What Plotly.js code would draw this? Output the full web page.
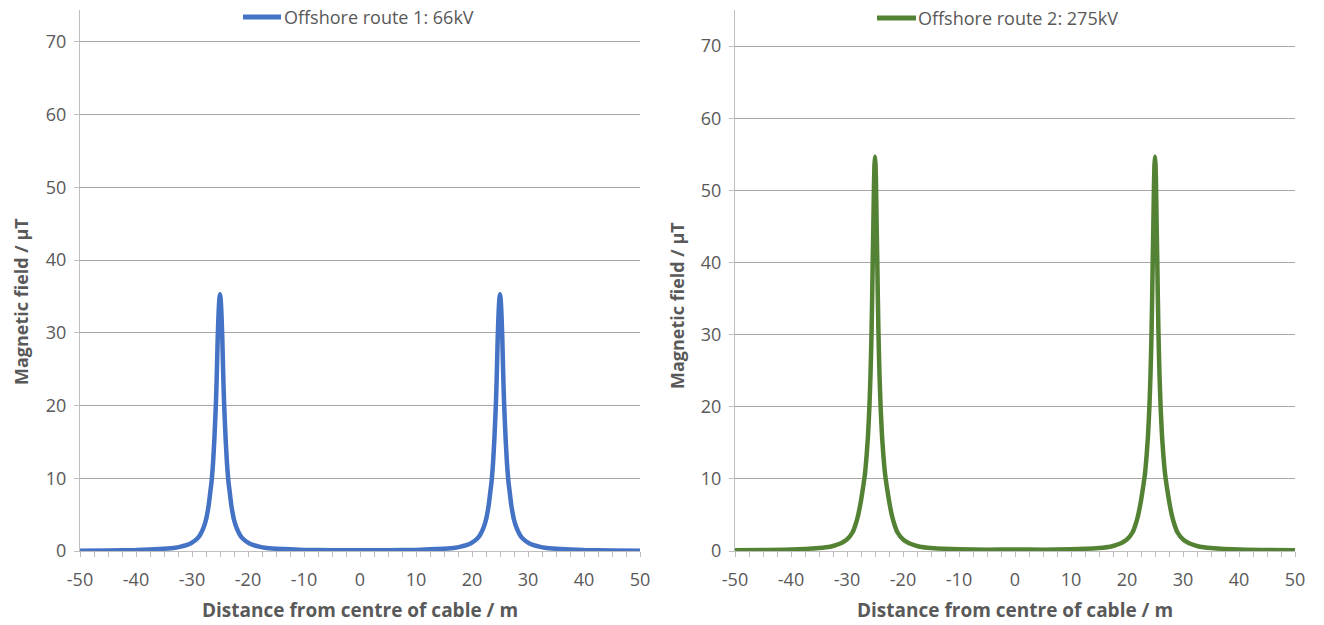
<!DOCTYPE html>
<html>
<head>
<meta charset="utf-8">
<script src="https://cdn.plot.ly/plotly-3.0.1.min.js"></script>
<style>html,body{margin:0;padding:0;background:#fff;}#chart{width:1324px;height:625px;}</style>
</head>
<body>
<div id="chart"></div>
<script>
// Distance from centre of cable (m)
var distance = [-50,-45,-40,-35,-33,-32,-31,-30,-29,-28.5,-28,-27.5,-27,-26.75,-26.5,-26.25,-26,-25.8,-25.7,-25.6,-25.5,-25.4,-25.3,-25.2,-25.1,
  -25,
  -24.9,-24.8,-24.7,-24.6,-24.5,-24.4,-24.3,-24.2,-24,-23.75,-23.5,-23.25,-23,-22.5,-22,-21.5,-21,-20,-19,-18,-17,-15,-10,-5,0,
  5,10,15,17,18,19,20,21,21.5,22,22.5,23,23.25,23.5,23.75,24,24.2,24.3,24.4,24.5,24.6,24.7,24.8,24.9,
  25,
  25.1,25.2,25.3,25.4,25.5,25.6,25.7,25.8,26,26.25,26.5,26.75,27,27.5,28,28.5,29,30,31,32,33,35,40,45,50];

// Offshore route 1: 66kV (µT)
var route1 = [0.05,0.07,0.13,0.32,0.45,0.6,0.8,1.15,1.75,2.3,3.1,4.3,6.4,8,9.6,12,15.5,19,21,23.5,26.5,29.5,31.8,33.6,34.8,
  35.3,
  34.8,33.6,31.8,29.5,26.5,23.5,21,19,15.5,12,9.6,8,6.4,4.3,3.1,2.3,1.75,1.15,0.8,0.6,0.45,0.32,0.15,0.11,0.1,
  0.11,0.15,0.32,0.45,0.6,0.8,1.15,1.75,2.3,3.1,4.3,6.4,8,9.6,12,15.5,19,21,23.5,26.5,29.5,31.8,33.6,34.8,
  35.3,
  34.8,33.6,31.8,29.5,26.5,23.5,21,19,15.5,12,9.6,8,6.4,4.3,3.1,2.3,1.75,1.15,0.8,0.6,0.45,0.32,0.13,0.07,0.05];

// Offshore route 2: 275kV (µT)
var route2 = [0.1,0.13,0.2,0.43,0.6,0.8,1.1,1.6,2.6,3.6,5.0,7.0,9.5,11,13.2,16,20,24.5,27.5,31,35.5,40.5,45,50,53.5,
  54.7,
  53.5,50,45,40.5,35.5,31,27.5,24.5,20,16,13.2,11,9.5,7.0,5.0,3.6,2.6,1.6,1.1,0.8,0.6,0.43,0.24,0.19,0.2,
  0.19,0.24,0.43,0.6,0.8,1.1,1.6,2.6,3.6,5.0,7.0,9.5,11,13.2,16,20,24.5,27.5,31,35.5,40.5,45,50,53.5,
  54.7,
  53.5,50,45,40.5,35.5,31,27.5,24.5,20,16,13.2,11,9.5,7.0,5.0,3.6,2.6,1.6,1.1,0.8,0.6,0.43,0.2,0.13,0.1];

var xTicks = [-50,-40,-30,-20,-10,0,10,20,30,40,50];
var xTickLabels = ['-50','-40','-30','-20','-10','0','10','20','30','40','50'];
var yTicks = [0,10,20,30,40,50,60,70];
var yTickLabels = ['0','10','20','30','40','50','60','70'];
var names = ['Offshore route 1: 66kV', 'Offshore route 2: 275kV'];
var colors = ['#4472C4', '#548235'];
var xTitle = 'Distance from centre of cable / m';
var yTitle = 'Magnetic field / µT';

var grey = '#595959';
var fam = 'Open Sans, Noto Sans, sans-serif';
var tickFont = {family: fam, size: 18, color: grey};
var legFont = {family: fam, size: 18, color: grey};
var xTitleFont = {family: fam, size: 19, color: grey};
var yTitleFont = {family: fam, size: 18, color: grey};

var traces = [
  {x: distance, y: route1, type: 'scatter', mode: 'lines', name: names[0],
   line: {color: colors[0], width: 4.5, shape: 'spline', smoothing: 0.5}, xaxis: 'x', yaxis: 'y'},
  {x: distance, y: route2, type: 'scatter', mode: 'lines', name: names[1],
   line: {color: colors[1], width: 4.5, shape: 'spline', smoothing: 0.5}, xaxis: 'x2', yaxis: 'y2'}
];

function xax(domain, anchor) {
  return {
    domain: domain, anchor: anchor, range: [-50, 50], tickmode: 'array', tickvals: xTicks, ticktext: xTickLabels,
    ticks: 'outside', ticklen: 5, tickcolor: '#bfbfbf', tickfont: tickFont, ticklabelstandoff: 7,
    minor: {dtick: 2.5, ticks: 'outside', ticklen: 5, tickcolor: '#bfbfbf', showgrid: false},
    showgrid: false, zeroline: false, showline: true, linecolor: '#bfbfbf', linewidth: 1,
    fixedrange: true
  };
}
function yax(domain, anchor, top) {
  return {
    domain: domain, anchor: anchor, range: [0, top], tickmode: 'array', tickvals: yTicks, ticktext: yTickLabels,
    ticks: 'outside', ticklen: 5, tickcolor: '#bfbfbf', tickfont: tickFont, ticklabelstandoff: 4,
    showgrid: true, gridcolor: '#a6a6a6', gridwidth: 1, zeroline: false,
    showline: true, linecolor: '#bfbfbf', linewidth: 1,
    fixedrange: true
  };
}

function ann(x, y, text, font, angle) {
  return {xref: 'paper', yref: 'paper', x: x / 1324, y: 1 - y / 625, xanchor: 'center', yanchor: 'middle',
          text: text, showarrow: false, font: font, textangle: angle || 0};
}

var layout = {
  width: 1324, height: 625,
  margin: {l: 0, r: 0, t: 0, b: 0},
  paper_bgcolor: '#ffffff', plot_bgcolor: '#ffffff',
  showlegend: false,
  xaxis: xax([80/1324, 640/1324], 'y'),
  yaxis: yax([74/625, 615/625], 'x', 74.4),
  xaxis2: xax([735/1324, 1295/1324], 'y2'),
  yaxis2: yax([74/625, 615/625], 'x2', 75.0),
  shapes: [
    {type: 'line', xref: 'paper', yref: 'paper', x0: 243/1324, x1: 281/1324, y0: 1 - 17/625, y1: 1 - 17/625,
     line: {color: colors[0], width: 5}},
    {type: 'line', xref: 'paper', yref: 'paper', x0: 877/1324, x1: 916/1324, y0: 1 - 18/625, y1: 1 - 18/625,
     line: {color: colors[1], width: 5}}
  ],
  annotations: [
    {xref: 'paper', yref: 'paper', x: 282/1324, y: 1 - 17/625, xanchor: 'left', yanchor: 'middle',
     text: names[0], showarrow: false, font: legFont},
    {xref: 'paper', yref: 'paper', x: 916/1324, y: 1 - 18/625, xanchor: 'left', yanchor: 'middle',
     text: names[1], showarrow: false, font: legFont},
    ann(360, 610, '<b>' + xTitle + '</b>', xTitleFont),
    ann(1015, 610, '<b>' + xTitle + '</b>', xTitleFont),
    ann(21, 302, '<b>' + yTitle + '</b>', yTitleFont, -90),
    ann(677, 306, '<b>' + yTitle + '</b>', yTitleFont, -90)
  ]
};

Plotly.newPlot('chart', traces, layout, {displayModeBar: false, staticPlot: true});
</script>
</body>
</html>
